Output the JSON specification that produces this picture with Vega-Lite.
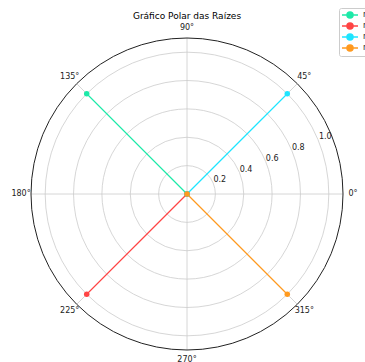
{
  "$schema": "https://vega.github.io/schema/vega-lite/v6.json",
  "width": 312,
  "height": 312,
  "autosize": {"type": "none"},
  "padding": {"left": 31, "top": 38, "right": 22, "bottom": 12},
  "title": {
    "text": "Gráfico Polar das Raízes",
    "font": "DejaVu Sans",
    "fontSize": 9,
    "fontWeight": "normal",
    "color": "#000000",
    "offset": -13
  },
  "config": {"view": {"stroke": null}, "font": "DejaVu Sans"},
  "datasets": {
    "roots": [
      {"label": "r1", "re": -0.7071, "im": 0.7071},
      {"label": "r2", "re": -0.7071, "im": -0.7071},
      {"label": "r3", "re": 0.7071, "im": 0.7071},
      {"label": "r4", "re": 0.7071, "im": -0.7071}
    ],
    "rings": [{"r": 0.2}, {"r": 0.4}, {"r": 0.6}, {"r": 0.8}, {"r": 1.0}],
    "border": [{"r": 1.1}],
    "spokes": [
      {"x": 1.1, "y": 0, "x2": -1.1, "y2": 0},
      {"x": 0.7778, "y": 0.7778, "x2": -0.7778, "y2": -0.7778},
      {"x": 0, "y": 1.1, "x2": 0, "y2": -1.1},
      {"x": -0.7778, "y": 0.7778, "x2": 0.7778, "y2": -0.7778}
    ],
    "rticks": [
      {"x": 0.231, "y": 0.096, "label": "0.2"},
      {"x": 0.416, "y": 0.172, "label": "0.4"},
      {"x": 0.601, "y": 0.249, "label": "0.6"},
      {"x": 0.785, "y": 0.325, "label": "0.8"},
      {"x": 0.975, "y": 0.404, "label": "1.0"}
    ],
    "angles": [
      {"x": 1.17, "y": 0, "label": "0°"},
      {"x": 0.827, "y": 0.827, "label": "45°"},
      {"x": 0, "y": 1.17, "label": "90°"},
      {"x": -0.827, "y": 0.827, "label": "135°"},
      {"x": -1.17, "y": 0, "label": "180°"},
      {"x": -0.827, "y": -0.827, "label": "225°"},
      {"x": 0, "y": -1.17, "label": "270°"},
      {"x": 0.827, "y": -0.827, "label": "315°"}
    ]
  },
  "layer": [
    {
      "data": {"name": "rings"},
      "mark": {"type": "point", "shape": "circle", "filled": false, "stroke": "#cccccc", "strokeWidth": 0.8, "opacity": 1},
      "encoding": {
        "x": {"datum": 0, "type": "quantitative", "scale": {"domain": [-1.1, 1.1], "nice": false, "zero": false}, "axis": null},
        "y": {"datum": 0, "type": "quantitative", "scale": {"domain": [-1.1, 1.1], "nice": false, "zero": false}, "axis": null},
        "size": {"field": "r", "type": "quantitative", "legend": null, "scale": {"type": "pow", "exponent": 2, "domain": [0, 1.1], "range": [0, 97344]}}
      }
    },
    {
      "data": {"name": "spokes"},
      "mark": {"type": "rule", "stroke": "#cccccc", "strokeWidth": 0.8},
      "encoding": {
        "x": {"field": "x", "type": "quantitative"},
        "y": {"field": "y", "type": "quantitative"},
        "x2": {"field": "x2"},
        "y2": {"field": "y2"}
      }
    },
    {
      "data": {"name": "border"},
      "mark": {"type": "point", "shape": "circle", "filled": false, "stroke": "#222222", "strokeWidth": 1, "opacity": 1},
      "encoding": {
        "x": {"datum": 0, "type": "quantitative"},
        "y": {"datum": 0, "type": "quantitative"},
        "size": {"field": "r", "type": "quantitative", "legend": null}
      }
    },
    {
      "data": {"name": "rticks"},
      "mark": {"type": "text", "fontSize": 8, "color": "#222222", "align": "center", "baseline": "middle"},
      "encoding": {
        "x": {"field": "x", "type": "quantitative"},
        "y": {"field": "y", "type": "quantitative"},
        "text": {"field": "label"}
      }
    },
    {
      "data": {"name": "angles"},
      "mark": {"type": "text", "fontSize": 8, "color": "#222222", "align": "center", "baseline": "middle"},
      "encoding": {
        "x": {"field": "x", "type": "quantitative"},
        "y": {"field": "y", "type": "quantitative"},
        "text": {"field": "label"}
      }
    },
    {
      "data": {"name": "roots"},
      "mark": {"type": "rule", "strokeWidth": 1.2},
      "encoding": {
        "x": {"field": "re", "type": "quantitative"},
        "y": {"field": "im", "type": "quantitative"},
        "x2": {"datum": 0},
        "y2": {"datum": 0},
        "color": {
          "field": "label",
          "type": "nominal",
          "scale": {"domain": ["r1", "r2", "r3", "r4"], "range": ["#1de9a8", "#ff4444", "#1ee5ff", "#ff9a1f"]},
          "legend": {
            "title": null,
            "orient": "none",
            "legendX": 308,
            "legendY": -30,
            "symbolType": "M-2,0L2,0M0.75,0A0.75,0.75,0,1,1,-0.75,0A0.75,0.75,0,1,1,0.75,0Z",
            "symbolSize": 64,
            "symbolStrokeWidth": 1.5,
            "symbolOffset": 4,
            "labelFontSize": 8,
            "labelOffset": 8,
            "labelColor": "#222222",
            "rowPadding": -1,
            "padding": 2,
            "strokeColor": "#cccccc",
            "fillColor": "#ffffff",
            "cornerRadius": 2
          }
        }
      }
    },
    {
      "data": {"name": "roots"},
      "mark": {"type": "point", "filled": true, "opacity": 1, "size": 30, "shape": "circle"},
      "encoding": {
        "x": {"datum": 0, "type": "quantitative"},
        "y": {"datum": 0, "type": "quantitative"},
        "color": {"field": "label", "type": "nominal"}
      }
    },
    {
      "data": {"name": "roots"},
      "mark": {"type": "point", "filled": true, "opacity": 1, "size": 30, "shape": "circle"},
      "encoding": {
        "x": {"field": "re", "type": "quantitative"},
        "y": {"field": "im", "type": "quantitative"},
        "color": {"field": "label", "type": "nominal"}
      }
    }
  ]
}
